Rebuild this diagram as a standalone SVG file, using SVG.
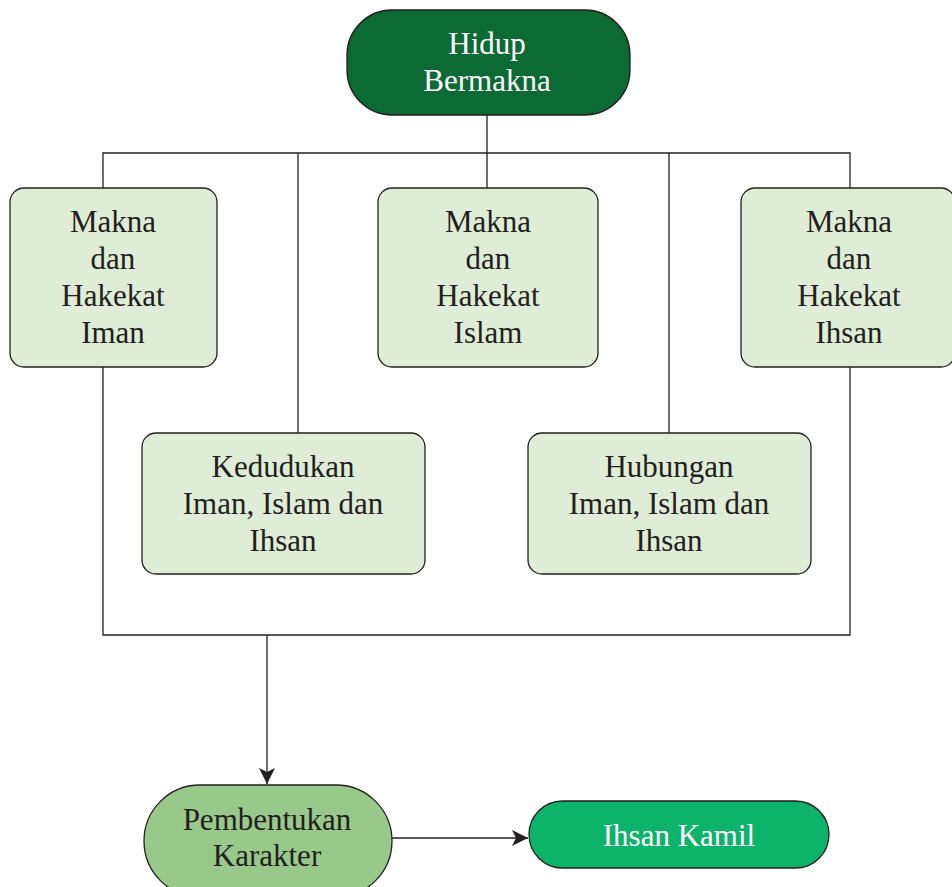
<svg xmlns="http://www.w3.org/2000/svg" width="952" height="887" viewBox="0 0 952 887">
<style>
text{font-family:"Liberation Serif","DejaVu Serif",serif;font-size:31px;text-anchor:middle;fill:#231f20}
.w{fill:#ffffff}
.box{fill:#e0edd6;stroke:#231f20;stroke-width:1.3}
.ln{fill:none;stroke:#231f20;stroke-width:1.3}
</style>
<defs>
<marker id="ah" viewBox="0 0 10 10" refX="10" refY="5" markerWidth="16" markerHeight="16" markerUnits="userSpaceOnUse" orient="auto">
<path d="M0,0 L10,5 L0,10 L2.5,5 Z" fill="#231f20"/>
</marker>
</defs>
<g id="connectors">
<path class="ln" d="M487,115 V188"/>
<path class="ln" d="M103,188 V153 H850 V188"/>
<path class="ln" d="M298,153 V433"/>
<path class="ln" d="M669,153 V433"/>
<path class="ln" d="M103,367 V635 H850 V367"/>
<path class="ln" d="M267,635 V784" marker-end="url(#ah)"/>
<path class="ln" d="M392,838 H528" marker-end="url(#ah)"/>
</g>
<g id="hidup">
<rect x="347" y="10" width="283" height="105" rx="45" fill="#0b6b33" stroke="#231f20" stroke-width="1.3"/>
<text class="w" x="487" y="54">Hidup</text>
<text class="w" x="487" y="91">Bermakna</text>
</g>
<g id="iman">
<rect class="box" x="10" y="188" width="207" height="179" rx="14"/>
<text x="113" y="232">Makna</text>
<text x="113" y="269">dan</text>
<text x="113" y="306">Hakekat</text>
<text x="113" y="343">Iman</text>
</g>
<g id="islam">
<rect class="box" x="378" y="188" width="220" height="179" rx="14"/>
<text x="488" y="232">Makna</text>
<text x="488" y="269">dan</text>
<text x="488" y="306">Hakekat</text>
<text x="488" y="343">Islam</text>
</g>
<g id="ihsan">
<rect class="box" x="741" y="188" width="214" height="179" rx="14"/>
<text x="849" y="232">Makna</text>
<text x="849" y="269">dan</text>
<text x="849" y="306">Hakekat</text>
<text x="849" y="343">Ihsan</text>
</g>
<g id="kedudukan">
<rect class="box" x="142" y="433" width="283" height="141" rx="14"/>
<text x="283" y="477">Kedudukan</text>
<text x="283" y="514">Iman, Islam dan</text>
<text x="283" y="551">Ihsan</text>
</g>
<g id="hubungan">
<rect class="box" x="528" y="433" width="283" height="141" rx="14"/>
<text x="669" y="477">Hubungan</text>
<text x="669" y="514">Iman, Islam dan</text>
<text x="669" y="551">Ihsan</text>
</g>
<g id="pembentukan">
<rect x="144" y="785" width="248" height="112" rx="56" fill="#98c98a" stroke="#231f20" stroke-width="1.3"/>
<text x="267" y="830">Pembentukan</text>
<text x="267" y="866">Karakter</text>
</g>
<g id="ihsankamil">
<rect x="529" y="801" width="300" height="67" rx="33.5" fill="#0db36a" stroke="#231f20" stroke-width="1.3"/>
<text class="w" x="679" y="846">Ihsan Kamil</text>
</g>
</svg>
